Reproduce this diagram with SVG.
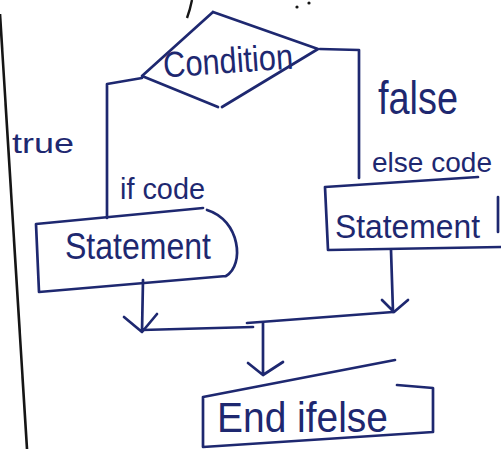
<svg xmlns="http://www.w3.org/2000/svg" width="501" height="449" viewBox="0 0 501 449">
<style>
.s{fill:none;stroke:#1e2870;stroke-width:2.7;stroke-linecap:round;stroke-linejoin:round}
.t{font-family:"Liberation Sans",Arial,sans-serif;fill:#1e2870}
</style>
<rect width="501" height="449" fill="#ffffff"/>
<path d="M0,14 L27,449" fill="none" stroke="#151515" stroke-width="2.6"/>
<path d="M192,0 Q190,10 187,18" fill="none" stroke="#151515" stroke-width="2.4"/>
<circle cx="297" cy="7" r="1.6" fill="#151515"/>
<circle cx="309" cy="3" r="1.6" fill="#151515"/>
<g id="condition">
<path class="s" d="M213,12 L318,49 L222,107 M218,107 L142,76 L213,12"/>
<text class="t" x="163" y="73" font-size="36" textLength="130" lengthAdjust="spacingAndGlyphs" transform="rotate(-4 228 60)">Condition</text>
</g>
<g id="if-statement">
<path class="s" d="M36,224 L203,208 M39,292 L36,224 M39,292 L226,276 M207,210 C240,220 245,265 226,276"/>
<text class="t" x="65" y="259" font-size="36" textLength="146" lengthAdjust="spacingAndGlyphs">Statement</text>
</g>
<g id="else-statement">
<path class="s" d="M325,187 L478,177 M325,187 L328,250 L501,247 M498,197 L498,232"/>
<text class="t" x="335" y="238" font-size="34" textLength="145" lengthAdjust="spacingAndGlyphs">Statement</text>
</g>
<g id="end-ifelse">
<path class="s" d="M203,397 L395,360 M397,385 L433,388 L433,432 L203,447 L203,397"/>
<text class="t" x="217" y="432" font-size="42" textLength="171" lengthAdjust="spacingAndGlyphs">End ifelse</text>
</g>
<g id="connectors">
<path class="s" d="M142,78 L107,84 L107,218"/>
<path class="s" d="M320,49 L359,50 L359,178"/>
<path class="s" d="M143,280 L142,332 M124,317 L142,332 L157,314"/>
<path class="s" d="M391,250 L393,312 M382,300 L394,312 L408,300"/>
<path class="s" d="M142,330 L253,327 M247,323 L393,312"/>
<path class="s" d="M263,323 L263,375 M248,363 L263,375 L283,362"/>
<text class="t" x="12" y="153" font-size="28" textLength="62" lengthAdjust="spacingAndGlyphs">true</text>
<text class="t" x="378" y="114" font-size="46" textLength="80" lengthAdjust="spacingAndGlyphs">false</text>
<text class="t" x="372" y="172" font-size="28" textLength="120" lengthAdjust="spacingAndGlyphs">else code</text>
<text class="t" x="120" y="199" font-size="30" textLength="85" lengthAdjust="spacingAndGlyphs">if code</text>
</g>
</svg>
